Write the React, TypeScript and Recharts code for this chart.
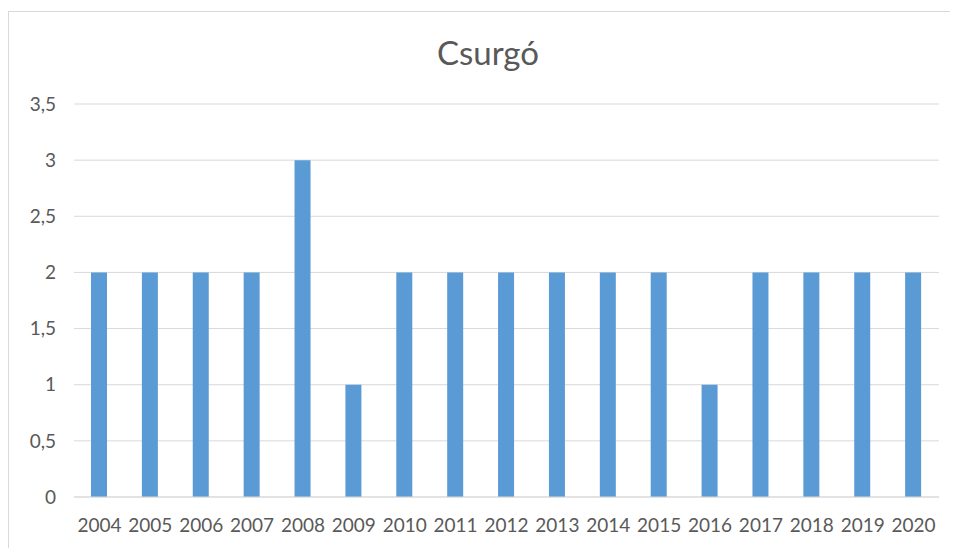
import React from "react";
import { BarChart, Bar, XAxis, YAxis, CartesianGrid } from "recharts";

const years = ["2004","2005","2006","2007","2008","2009","2010","2011","2012","2013","2014","2015","2016","2017","2018","2019","2020"];
const values = [2,2,2,2,3,1,2,2,2,2,2,2,1,2,2,2,2];
const yTicks = [0,0.5,1,1.5,2,2.5,3,3.5];
const title = "Csurgó";

const data = years.map((y, i) => ({ year: y, value: values[i] }));
const font = "Lato, Carlito, sans-serif";

export default function App() {
  return (
    <div style={{ position: "relative", width: 950, height: 540 }}>
      <div style={{ position: "absolute", left: 0, top: 3, width: 980, height: 600, border: "1px solid #d9d9d9", boxSizing: "border-box" }} />
      <div style={{ position: "absolute", left: 0, width: 960, top: 24, textAlign: "center", fontFamily: font, fontSize: 33, color: "#595959" }}>{title}</div>
      <BarChart width={950} height={540} data={data} margin={{ top: 96, right: 19, bottom: 21, left: 0 }}>
        <CartesianGrid vertical={false} stroke="#d9d9d9" />
        <XAxis dataKey="year" height={30} tickLine={false} stroke="#d9d9d9" tickMargin={16} fontSize={19} fontFamily={font} tick={{ fill: "#595959", fontSize: 19, fontFamily: font }} interval={0} />
        <YAxis width={66} domain={[0, 3.5]} ticks={yTicks} axisLine={false} tickLine={false} tickMargin={12} fontSize={19} fontFamily={font} tickFormatter={(v: number) => String(v).replace(".", ",")} tick={{ fill: "#595959", fontSize: 19, fontFamily: font }} />
        <Bar dataKey="value" fill="#5B9BD5" barSize={16} isAnimationActive={false} />
      </BarChart>
    </div>
  );
}
